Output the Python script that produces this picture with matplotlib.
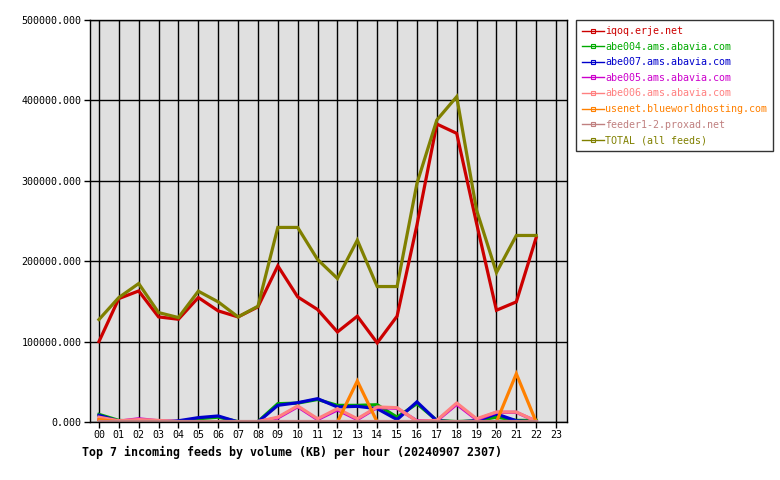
import numpy as np
import matplotlib
matplotlib.use('Agg')
import matplotlib.pyplot as plt
from matplotlib.lines import Line2D

hours = ["%02d" % h for h in range(24)]

iqoq = [100000, 153500, 163000, 130700, 127800, 154800, 138200, 130700, 143200, 194200, 155600, 139900,
        112000, 131600, 98400, 131600, 245000, 370600, 359000, 247000, 139000, 149400, 229500]
abe004 = [9500, 2000, 1000, 500, 500, 4000, 6000, 500, 500, 22800, 23500, 28000,
          20700, 20700, 21500, 6000, 22800, 2000, 500, 1500, 6000, 2000, 2000]
abe007 = [8300, 1000, 500, 0, 1500, 5400, 7500, 0, 0, 20750, 24000, 29000,
          18700, 19500, 16600, 3000, 25000, 1500, 0, 1500, 10000, 1500, 0]
abe005 = [3000, 1000, 4000, 1500, 500, 500, 500, 500, 500, 5000, 19000, 3000,
          15000, 3000, 18000, 17000, 1500, 1500, 22000, 3000, 12000, 12000, 1000]
abe006 = [6000, 1500, 3000, 2000, 500, 500, 500, 500, 500, 6000, 20000, 4000,
          16600, 4000, 18700, 17800, 1000, 2000, 23600, 4000, 12400, 12400, 1000]
usenet = [3000, 0, 0, 0, 0, 0, 0, 0, 0, 0, 0, 0,
          0, 51000, 0, 0, 0, 0, 0, 0, 0, 60000, 0]
feeder = [1500, 1500, 1500, 1500, 1500, 1500, 1500, 1500, 1500, 1500, 1500, 1500,
          1500, 1500, 1500, 1500, 1500, 1500, 1500, 1500, 1500, 1500, 1500]
total = [127400, 154800, 172200, 136100, 129900, 162700, 149400, 130700, 144000, 242000, 242000, 202100,
         178500, 226200, 168500, 168500, 296700, 375600, 404600, 263500, 185900, 232000, 232000]

series = [
    ("iqoq.erje.net", iqoq, "#cc0000"),
    ("abe004.ams.abavia.com", abe004, "#00aa00"),
    ("abe007.ams.abavia.com", abe007, "#0000cc"),
    ("abe005.ams.abavia.com", abe005, "#cc00cc"),
    ("abe006.ams.abavia.com", abe006, "#ff8080"),
    ("usenet.blueworldhosting.com", usenet, "#ff8000"),
    ("feeder1-2.proxad.net", feeder, "#c08080"),
    ("TOTAL (all feeds)", total, "#808000"),
]

plt.rcParams['font.family'] = ['DejaVu Sans Mono']

fig = plt.figure(figsize=(7.8, 4.8), dpi=100)
ax = fig.add_axes([90 / 780, 58 / 480, 477 / 780, 402 / 480])
ax.set_facecolor("#e0e0e0")

x = np.arange(len(iqoq))
for name, vals, col in series:
    ax.plot(x, vals, color=col, linewidth=2.3, solid_joinstyle='miter')

ax.set_xlim(-0.45, 23.55)
ax.set_ylim(0, 500000)
ax.set_xticks(range(24))
ax.set_xticklabels(hours, fontsize=7.2)
ax.set_yticks(range(0, 500001, 100000))
ax.set_yticklabels(["%d.000" % v for v in range(0, 500001, 100000)], fontsize=7.2)
ax.tick_params(axis='both', length=4, width=1, color='black', pad=2)
ax.grid(True, color='black', linewidth=1)
ax.set_axisbelow(True)
for s in ax.spines.values():
    s.set_linewidth(1)

handles = [Line2D([], [], color=col, lw=1, marker='s', ms=2.5, mfc='none', mew=0.8)
           for name, vals, col in series]
leg = fig.legend(handles, [s[0] for s in series], loc='upper left',
                 bbox_to_anchor=(576 / 780, 1 - 20 / 480), fontsize=7.2,
                 frameon=True, fancybox=False, handlelength=2.2, handletextpad=0.1,
                 labelspacing=0.56, borderpad=0.6, borderaxespad=0)
leg.get_frame().set_edgecolor('black')
leg.get_frame().set_linewidth(1)
for txt, (name, vals, col) in zip(leg.get_texts(), series):
    txt.set_color(col)

fig.text(82 / 780, 1 - 452 / 480, "Top 7 incoming feeds by volume (KB) per hour (20240907 2307)",
         fontsize=8.4, fontweight='bold', va='center', ha='left')

fig.savefig("out.png", dpi=100)
